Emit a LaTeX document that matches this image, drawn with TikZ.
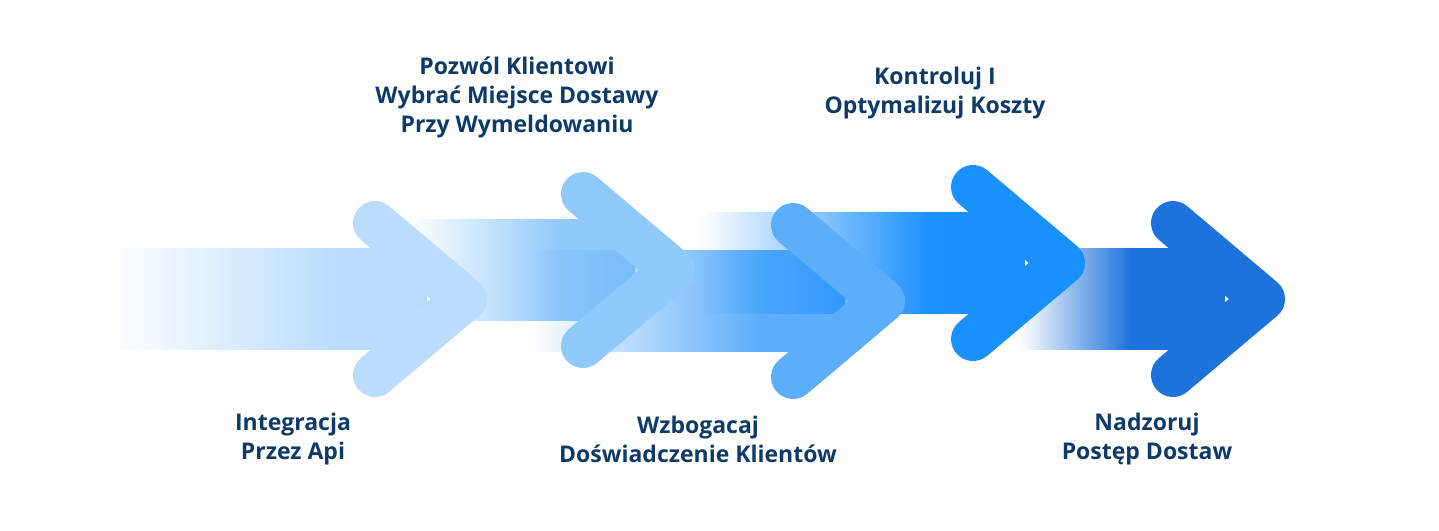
\documentclass[tikz,border=0pt]{standalone}
\usepackage{fontspec}
\setmainfont{Open Sans}
\usetikzlibrary{fadings}
\definecolor{navy}{HTML}{0E3A68}
\definecolor{stepA}{HTML}{BBDDFD}
\definecolor{stepB}{HTML}{90C9FC}
\definecolor{stepC}{HTML}{5CADFA}
\definecolor{stepD}{HTML}{1A8FFE}
\definecolor{stepE}{HTML}{1E72DC}
\tikzset{
  label/.style={text=navy, align=center, font=\fontsize{23}{29}\selectfont\bfseries},
  head/.style={line width=44pt, line cap=round, line join=round}
}
% body: start x, solid x, tip x, centre y, colour
\newcommand{\arrowbody}[5]{
  \fill[#5, path fading=west] (#1,#4-51) rectangle (#2,#4+51);
  \fill[#5] (#2-1,#4-51) rectangle (#3-60,#4+51);
}
% head: tip x, centre y, colour
\newcommand{\arrowhead}[3]{
  \draw[#3, head] (#1-112,#2-76) -- (#1-22,#2) -- (#1-112,#2+76);
}
\begin{document}
\begin{tikzpicture}[x=1pt, y=-1pt]
  \useasboundingbox (0,0) rectangle (1439,530);
  % bodies
  \arrowbody{110}{330}{487}{299}{stepA}
  \arrowbody{410}{560}{695}{270}{stepB}
  \arrowbody{530}{760}{905}{301}{stepC}
  \arrowbody{700}{930}{1085}{263}{stepD}
  \arrowbody{1020}{1130}{1285}{299}{stepE}
  % heads
  \arrowhead{487}{299}{stepA}
  \arrowhead{695}{270}{stepB}
  \arrowhead{905}{301}{stepC}
  \arrowhead{1085}{263}{stepD}
  \arrowhead{1285}{299}{stepE}
  % labels
  \node[label] (top1) at (517,97) {Pozwól Klientowi\\Wybrać Miejsce Dostawy\\Przy Wymeldowaniu};
  \node[label] (top2) at (935,93) {Kontroluj I\\Optymalizuj Koszty};
  \node[label] (bot1) at (293,439) {Integracja\\Przez Api};
  \node[label] (bot2) at (698,439) {Wzbogacaj\\Doświadczenie Klientów};
  \node[label] (bot3) at (1147,439) {Nadzoruj\\Postęp Dostaw};
\end{tikzpicture}
\end{document}
